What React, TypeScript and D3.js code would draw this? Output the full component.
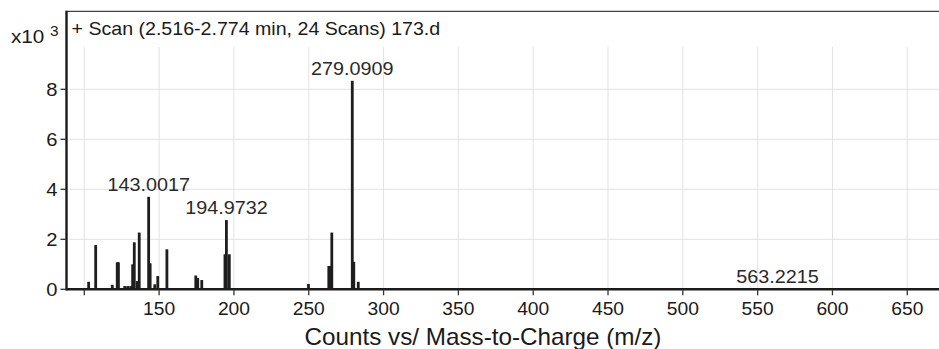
import React from "react";
import * as d3 from "d3";

const peakMz = [102.9, 107.6, 118.7, 122.0, 122.8, 127, 129, 131, 132.3, 133.4, 135.4, 136.7, 143.0017, 144.0, 147.1, 149.1, 155.2, 174.5, 175.8, 178.5, 194.0, 194.9732, 196.9, 249.8, 253.6, 263.4, 264.3, 265.4, 279.0909, 280.1, 283.1, 295.3, 563.2215];
const peakCounts = [0.3, 1.77, 0.18, 1.08, 1.08, 0.13, 0.13, 0.13, 1.0, 1.88, 0.33, 2.27, 3.7, 1.04, 0.2, 0.53, 1.6, 0.55, 0.45, 0.37, 1.4, 2.77, 1.4, 0.21, 0.05, 0.93, 0.93, 2.27, 8.34, 1.1, 0.3, 0.04, 0.01];
const labelMz = [143.0017, 194.9732, 279.0909, 563.2215];
const labelText = ["143.0017", "194.9732", "279.0909", "563.2215"];
const xTicks = [100, 150, 200, 250, 300, 350, 400, 450, 500, 550, 600, 650];
const yTicks = [0, 2, 4, 6, 8];
const title = "+ Scan (2.516-2.774 min, 24 Scans) 173.d";
const xTitle = "Counts vs/ Mass-to-Charge (m/z)";

const W = 939, H = 349;
const left = 66.5, right = 939, top = 11.3, bottom = 289.3;
const font = "'Liberation Sans', Arial, Helvetica, sans-serif";

function T({ x, y, size, sx = 1, anchor = "start", fill = "#1a1a1a", children }: any) {
  return (
    <text transform={`translate(${x},${y}) scale(${sx},1)`} fontSize={size} textAnchor={anchor} fill={fill}>
      {children}
    </text>
  );
}

export default function App() {
  const x = d3.scaleLinear().domain([88.1, 671.2]).range([left, right]);
  const y = d3.scaleLinear().domain([0, 11.12]).range([bottom, top]);
  const countAt = (m: number) => peakCounts[peakMz.indexOf(m)];
  return (
    <svg width={W} height={H} style={{ position: "absolute", left: 0, top: 0, background: "#fff" }} fontFamily={font}>
      {xTicks.map((t) => (
        <line key={"gx" + t} x1={x(t)} x2={x(t)} y1={47} y2={bottom} stroke="#e2e2e2" strokeWidth={1} />
      ))}
      {yTicks.filter((t) => t > 0).map((t) => (
        <line key={"gy" + t} x1={left + 3} x2={right} y1={y(t)} y2={y(t)} stroke="#e2e2e2" strokeWidth={1} />
      ))}
      {peakMz.map((m, i) => (
        <rect key={"p" + i} x={x(m) - 1.4} width={2.8} y={y(peakCounts[i])} height={bottom - y(peakCounts[i])} fill="#1e1e1e" />
      ))}
      <line x1={left} x2={right} y1={top} y2={top} stroke="#444" strokeWidth={1.3} />
      <line x1={left} x2={left} y1={top - 0.6} y2={bottom + 1.2} stroke="#1a1a1a" strokeWidth={2.4} />
      <line x1={left} x2={right} y1={bottom} y2={bottom} stroke="#1a1a1a" strokeWidth={2.4} />
      {xTicks.map((t) => (
        <g key={"xt" + t}>
          <line x1={x(t)} x2={x(t)} y1={bottom} y2={bottom + 6} stroke="#333" strokeWidth={1.3} />
          {t !== 100 && (
            <T x={x(t)} y={315} size={17.5} sx={1.1} anchor="middle">{t}</T>
          )}
        </g>
      ))}
      {yTicks.map((t) => (
        <g key={"yt" + t}>
          <line x1={left - 6} x2={left} y1={y(t)} y2={y(t)} stroke="#333" strokeWidth={1.3} />
          <T x={57.5} y={y(t) + 6.3} size={18} sx={1.12} anchor="end">{t}</T>
        </g>
      ))}
      <T x={11} y={43} size={18} sx={1.15}>x10</T>
      <T x={50} y={36} size={14} sx={1.1}>3</T>
      <T x={71.5} y={35} size={18.5} sx={1.06}>{title}</T>
      {labelMz.map((m, i) => (
        <T key={"l" + i} x={x(m)} y={y(countAt(m)) - 6} size={18.5} sx={1.07} anchor="middle" fill="#2a2a2a">{labelText[i]}</T>
      ))}
      <T x={483} y={345} size={24} sx={1.01} anchor="middle">{xTitle}</T>
    </svg>
  );
}
